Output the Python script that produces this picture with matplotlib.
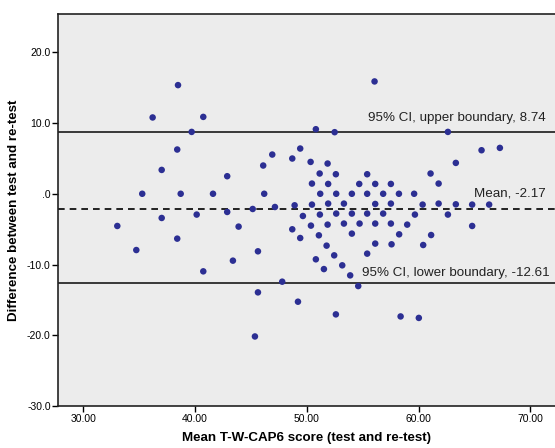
import matplotlib
matplotlib.use("Agg")
import matplotlib.pyplot as plt

plt.rcParams['font.family'] = ['Liberation Sans', 'DejaVu Sans']

# mean of test and re-test (x) and their difference (y)
mean_score = [
    38.48, 36.21, 40.74, 39.70, 38.41, 37.02, 42.88, 35.28, 38.72, 41.61,
    45.16, 37.02, 40.15, 42.88, 33.05, 43.90, 38.41,
    34.75, 45.63, 43.39, 40.74, 45.63, 45.36,
    56.06, 50.81, 52.49, 49.41, 46.91, 48.70, 46.10, 50.34, 51.86, 51.15,
    52.60, 55.40, 61.07, 50.46, 51.91, 54.69, 56.12, 57.52, 61.79, 46.19,
    51.20, 52.63, 54.03, 55.40, 56.83, 58.24, 59.60, 47.15, 48.91, 50.46,
    51.91, 53.32, 56.12, 57.52, 60.36, 61.79, 49.65, 51.17, 52.63, 54.03,
    55.40, 56.83, 59.67, 48.70, 50.37, 51.86, 53.32, 54.72, 56.12, 57.52,
    58.98, 49.41, 51.08, 54.03, 58.26, 61.12,
    62.62, 63.33, 63.33, 62.62, 65.63, 67.27, 64.79, 66.31, 64.79,
    60.41, 60.02,
    51.77, 56.12, 57.58, 50.81, 52.45, 55.40, 51.53, 53.17, 53.88, 47.80,
    54.60, 49.21, 52.60, 58.39,
]
difference = [
    15.35, 10.78, 10.86, 8.74, 6.25, 3.37, 2.48, 0.0, 0.0, 0.0,
    -2.15, -3.42, -2.94, -2.57, -4.55, -4.64, -6.34,
    -7.95, -8.13, -9.45, -10.96, -13.93, -20.16,
    15.87, 9.12, 8.70, 6.39, 5.54, 4.98, 3.99, 4.50, 4.27, 2.86,
    2.76, 2.76, 2.86, 1.44, 1.39, 1.39, 1.39, 1.39, 1.44, 0.0,
    0.0, 0.0, 0.0, 0.0, 0.0, 0.0, 0.0, -1.87, -1.63, -1.53,
    -1.39, -1.39, -1.44, -1.39, -1.53, -1.39, -3.14, -2.94, -2.80, -2.80,
    -2.80, -2.80, -2.94, -5.02, -4.50, -4.36, -4.21, -4.21, -4.21, -4.21,
    -4.36, -6.25, -5.87, -5.63, -5.73, -5.83,
    8.74, 4.36, -1.49, -2.94, 6.15, 6.48, -1.53, -1.53, -4.55,
    -7.24, -17.54,
    -7.33, -7.04, -7.14, -9.26, -8.70, -8.46, -10.64, -10.11, -11.53, -12.42,
    -13.04, -15.25, -17.04, -17.33,
]

mean_diff = -2.17
upper_loa = 8.74
lower_loa = -12.61

xticks = [30, 40, 50, 60, 70]
xticklabels = ['30.00', '40.00', '50.00', '60.00', '70.00']
yticks = [-30, -20, -10, 0, 10, 20]
yticklabels = ['-30.0', '-20.0', '-10.0', '.0', '10.0', '20.0']

fig = plt.figure(figsize=(5.55, 4.48), dpi=100)
ax = fig.add_axes([0.1052, 0.0935, 0.8948, 0.8753])
ax.set_facecolor('#ececec')

ax.scatter(mean_score, difference, s=22, color='#2c2f93', edgecolors='none', zorder=3)

ax.axhline(upper_loa, color='#2a2a2a', lw=1.3, zorder=2)
ax.axhline(lower_loa, color='#2a2a2a', lw=1.3, zorder=2)
ax.axhline(mean_diff, color='black', lw=1.2, ls=(0, (4, 3)), zorder=2)

ax.text(71.4, 10.7, f'95% CI, upper boundary, {upper_loa:.2f}', ha='right', va='center',
        fontsize=9.6, color='#222222')
ax.text(71.4, 0.0, f'Mean, {mean_diff:.2f}', ha='right', va='center',
        fontsize=9.6, color='#222222')
ax.text(71.75, -11.2, f'95% CI, lower boundary, {lower_loa:.2f}', ha='right', va='center',
        fontsize=9.6, color='#222222')

ax.set_xlim(27.78, 72.2)
ax.set_ylim(-30, 25.4)
ax.set_xticks(xticks)
ax.set_xticklabels(xticklabels)
ax.set_yticks(yticks)
ax.set_yticklabels(yticklabels)
ax.tick_params(labelsize=7.5, length=4, width=1, direction='out', pad=1.5)

for side in ['left', 'bottom', 'top']:
    ax.spines[side].set_color('#222222')
    ax.spines[side].set_linewidth(1.2)
ax.spines['right'].set_visible(False)

ax.set_xlabel('Mean T-W-CAP6 score (test and re-test)', fontsize=9.6, fontweight='bold', labelpad=6)
ax.set_ylabel('Difference between test and re-test', fontsize=9.6, fontweight='bold', labelpad=5)

fig.savefig('out.png', dpi=100)
